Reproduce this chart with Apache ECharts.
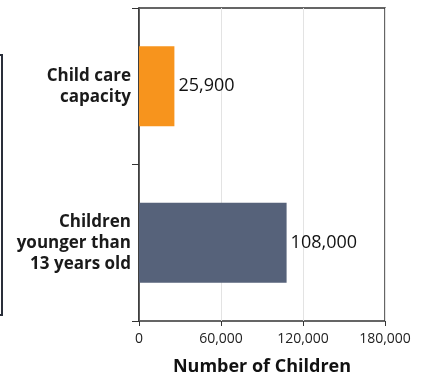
<!DOCTYPE html>
<html>
<head>
<meta charset="utf-8">
<script src="https://cdn.jsdelivr.net/npm/echarts@6/dist/echarts.min.js"></script>
<style>
  html, body { margin: 0; padding: 0; background: #fff; }
  #chart { width: 425px; height: 375px; }
</style>
</head>
<body>
<div id="chart"></div>
<script>
var categories = ['Child care\ncapacity', 'Children\nyounger than\n13 years old'];
var values = [25900, 108000];
var barColors = ['#f7941d', '#56627a'];
var xTicks = [0, 60000, 120000, 180000];

var fontName = '"Open Sans", "Noto Sans", sans-serif';

function fmt(v) {
    return v.toLocaleString('en-US');
}

var myChart = echarts.init(document.getElementById('chart'));
myChart.setOption({
    animation: false,
    textStyle: { fontFamily: fontName },
    grid: {
        left: 139, right: 40, top: 8, bottom: 54,
        containLabel: false,
        outerBoundsMode: 'none',
        show: true,
        borderColor: '#333',
        borderWidth: 1.5
    },
    xAxis: {
        type: 'value',
        min: xTicks[0],
        max: xTicks[xTicks.length - 1],
        interval: 60000,
        name: 'Number of Children',
        nameLocation: 'middle',
        nameGap: 37,
        nameTextStyle: { fontSize: 18, fontWeight: 'bold', color: '#111', fontFamily: fontName },
        axisLine: { lineStyle: { color: '#333', width: 1.5 } },
        axisTick: { show: true, length: 5, lineStyle: { color: '#333' } },
        axisLabel: { fontSize: 14, color: '#222', margin: 11, formatter: fmt, fontFamily: fontName },
        splitLine: { show: true, lineStyle: { color: '#e3e3e3', width: 1 } }
    },
    yAxis: {
        type: 'category',
        data: categories,
        inverse: true,
        axisLine: { lineStyle: { color: '#333', width: 1.5 } },
        axisTick: { show: true, length: 7, lineStyle: { color: '#333' } },
        axisLabel: {
            fontSize: 17, fontWeight: 'bold', color: '#1a1a1a',
            lineHeight: 21, margin: 8, align: 'right', fontFamily: fontName
        },
        splitLine: { show: false }
    },
    series: [{
        type: 'bar',
        barWidth: '51%',
        data: values.map(function (v, i) {
            return { value: v, itemStyle: { color: barColors[i] } };
        }),
        label: {
            show: true,
            position: 'right',
            distance: 4,
            fontSize: 18,
            color: '#111',
            fontFamily: fontName,
            formatter: function (p) { return fmt(p.value); }
        }
    }],
    graphic: [{
        type: 'rect',
        shape: { x: -10, y: 55, width: 12, height: 260 },
        style: { fill: 'none', stroke: '#2a2f3a', lineWidth: 2 }
    }]
});
</script>
</body>
</html>
